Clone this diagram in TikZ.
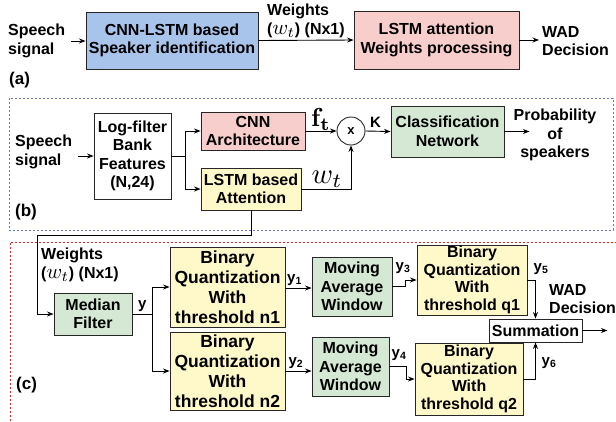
\documentclass[tikz,border=0pt]{standalone}
\usepackage[no-math]{fontspec}
\setmainfont{Liberation Sans}
\usetikzlibrary{arrows.meta}

\definecolor{boxblue}{HTML}{A9C4EB}
\definecolor{boxpink}{HTML}{F8CECC}
\definecolor{boxgreen}{HTML}{D5E8D4}
\definecolor{boxyellow}{HTML}{FFF9C9}
\definecolor{framblue}{HTML}{6474C8}
\definecolor{framred}{HTML}{E02828}

\newcommand{\wmath}{\scalebox{2.1}{\normalsize$w_t$}}

\begin{document}
\begin{tikzpicture}[x=1pt,y=-1pt,
  box/.style={draw=black!85, line width=0.9pt, align=center, inner sep=0pt,
    font=\bfseries\fontsize{16}{18.5}\selectfont},
  bigbox/.style={box, font=\bfseries\fontsize{17.5}{20}\selectfont},
  txt/.style={inner sep=0pt, align=left, font=\bfseries\fontsize{16}{18.5}\selectfont},
  ctxt/.style={txt, align=center},
  sub/.style={inner sep=0pt, font=\bfseries\fontsize{15}{15}\selectfont},
  arr/.style={-{Stealth[length=6.5pt,width=5pt]}, line width=0.9pt},
  ln/.style={line width=0.9pt},
  frame/.style={line width=1pt, dash pattern=on 2pt off 2pt}]
\useasboundingbox (0,0) rectangle (616,421);

% ---------- (a) overview ----------
\node[txt, anchor=west] (sa) at (8,41) {Speech\\signal};
\node[box, fill=boxblue, minimum width=172pt, minimum height=57pt] (cnnlstm) at (172,40.5)
  {CNN-LSTM based\\Speaker identification};
\node[box, fill=boxpink, minimum width=165pt, minimum height=58pt] (attw) at (436.5,40)
  {LSTM attention\\Weights processing};
\node[txt, anchor=west] (wada) at (542,41) {WAD\\Decision};
\node[txt, anchor=north west] (wla) at (267,4) {Weights\\(\wmath) (Nx1)};
\node[txt, anchor=west, font=\bfseries\fontsize{17}{17}\selectfont] (la) at (9,80) {(a)};

\draw[arr, shorten <=6pt] (sa.east) -- (sa.east -| cnnlstm.west);
\draw[arr] (cnnlstm.east) -- (attw.west);
\draw[arr, shorten >=3pt] (attw.east) -- (attw.east -| wada.west);

% ---------- (b) speaker identification network ----------
\draw[frame, draw=framblue] (9,98) rectangle (613,230);

\node[txt, anchor=west] (sb) at (15,152) {Speech\\signal};
\node[box, minimum width=77pt, minimum height=86pt] (lfb) at (132.5,156)
  {Log-filter\\Bank\\Features\\(N,24)};
\node[box, fill=boxpink, minimum width=104pt, minimum height=38pt] (cnn) at (253,131)
  {CNN\\Architecture};
\node[box, fill=boxyellow, minimum width=100pt, minimum height=42pt] (lstm) at (251,189)
  {LSTM based\\Attention};
\node[draw=black!85, line width=0.9pt, circle, minimum size=28pt, inner sep=0pt,
  font=\bfseries\fontsize{13}{13}\selectfont] (mul) at (351,131) {x};
\node[box, fill=boxgreen, minimum width=113pt, minimum height=51pt] (cls) at (447.5,131.5)
  {Classification\\Network};
\node[ctxt] (prob) at (555,135) {Probability\\of\\speakers};
\node[txt, anchor=west, font=\bfseries\fontsize{17}{17}\selectfont] (lb) at (15,212) {(b)};

\coordinate (split) at (185,156);
\draw[arr, shorten <=6pt] (sb.east |- lfb.west) -- (lfb.west);
\draw[ln] (lfb.east) -- (split);
\draw[ln] (split |- cnn.west) -- (split |- lstm.west);
\draw[arr] (split |- cnn.west) -- (cnn.west);
\draw[arr] (split |- lstm.west) -- (lstm.west);
\draw[arr] (cnn.east) -- node[above=0.5pt, pos=0.5, inner sep=0pt] (ft)
  {\scalebox{2.6}{\normalsize$\mathbf{f_t}$}} (mul.west);
\draw[arr] (lstm.east) -| node[above=1pt, pos=0.26, inner sep=0pt] (wt)
  {\scalebox{2.9}{\normalsize$w_t$}} (mul.south);
\draw[arr] (mul.east) -- node[above=3pt, pos=0.4, inner sep=0pt, font=\bfseries\fontsize{15}{15}\selectfont] (kl) {K} (cls.west);
\draw[arr] (cls.east) -- ++(25,0);

% ---------- (c) WAD decision ----------
\draw[frame, draw=framred] (10,425) -- (10,242) -- (620,242);

\node[txt, anchor=north west] (wlc) at (41,248) {Weights\\(\wmath) (Nx1)};
\node[box, fill=boxgreen, minimum width=78pt, minimum height=42pt] (med) at (93,314)
  {Median\\Filter};
\node[bigbox, fill=boxyellow, minimum width=115pt, minimum height=80pt] (bq1) at (227.5,287)
  {Binary\\Quantization\\With\\threshold n1};
\node[bigbox, fill=boxyellow, minimum width=115pt, minimum height=78pt] (bq2) at (227.5,371)
  {Binary\\Quantization\\With\\threshold n2};
\node[box, fill=boxgreen, minimum width=80pt, minimum height=59pt] (maw1) at (352,286.5)
  {Moving\\Average\\Window};
\node[box, fill=boxgreen, minimum width=77pt, minimum height=59pt] (maw2) at (350.5,366.5)
  {Moving\\Average\\Window};
\node[box, fill=boxyellow, minimum width=110pt, minimum height=70pt,
  font=\bfseries\fontsize{16}{17.5}\selectfont] (bq3) at (472,280)
  {Binary\\Quantization\\With\\threshold q1};
\node[box, fill=boxyellow, minimum width=108pt, minimum height=72pt,
  font=\bfseries\fontsize{16}{17.5}\selectfont] (bq4) at (469,379)
  {Binary\\Quantization\\With\\threshold q2};
\node[box, minimum width=93pt, minimum height=23pt] (sum) at (535.5,330.5) {Summation};
\node[txt, anchor=west] (wadc) at (549,299) {WAD\\Decision};
\node[txt, anchor=west, font=\bfseries\fontsize{17}{17}\selectfont] (lc) at (16,385) {(c)};

% attention weights routed down to the median filter
\coordinate (bendA) at (251,235);
\coordinate (bendB) at (37,235);
\draw[arr] (lstm.south) -- (bendA) -- (bendB) |- (med.west);

\coordinate (fork) at (152,314);
\draw[ln] (med.east) -- node[above=2pt, pos=0.5, sub] (ylab) {y} (fork);
\draw[ln] (fork |- bq1.west) -- (fork |- bq2.west);
\draw[arr] (fork |- bq1.west) -- (bq1.west);
\draw[arr] (fork |- bq2.west) -- (bq2.west);

\draw[arr] ([yshift=-1pt]bq1.east) -- node[above=2pt, pos=0.35, sub] (y1) {y\textsubscript{1}} ([yshift=-1pt]bq1.east -| maw1.west);
\draw[arr] (bq2.east) -- node[above=2pt, pos=0.4, sub] (y2) {y\textsubscript{2}} (bq2.east -| maw2.west);

\draw[arr] (maw1.east) -- ++(13,0) |- (bq3.west);
\node[sub] (y3) at (403,268) {y\textsubscript{3}};
\draw[arr] (maw2.east) -- ++(17,0) |- (bq4.west);
\node[sub] (y4) at (399,355) {y\textsubscript{4}};

\draw[arr] (bq3.east) -| (sum.north);
\node[sub] (y5) at (541,269) {y\textsubscript{5}};
\draw[arr] (bq4.east) -| (sum.south);
\node[sub] (y6) at (549,363) {y\textsubscript{6}};

\draw[arr] (sum.east) -- ++(25,0);
\end{tikzpicture}
\end{document}
